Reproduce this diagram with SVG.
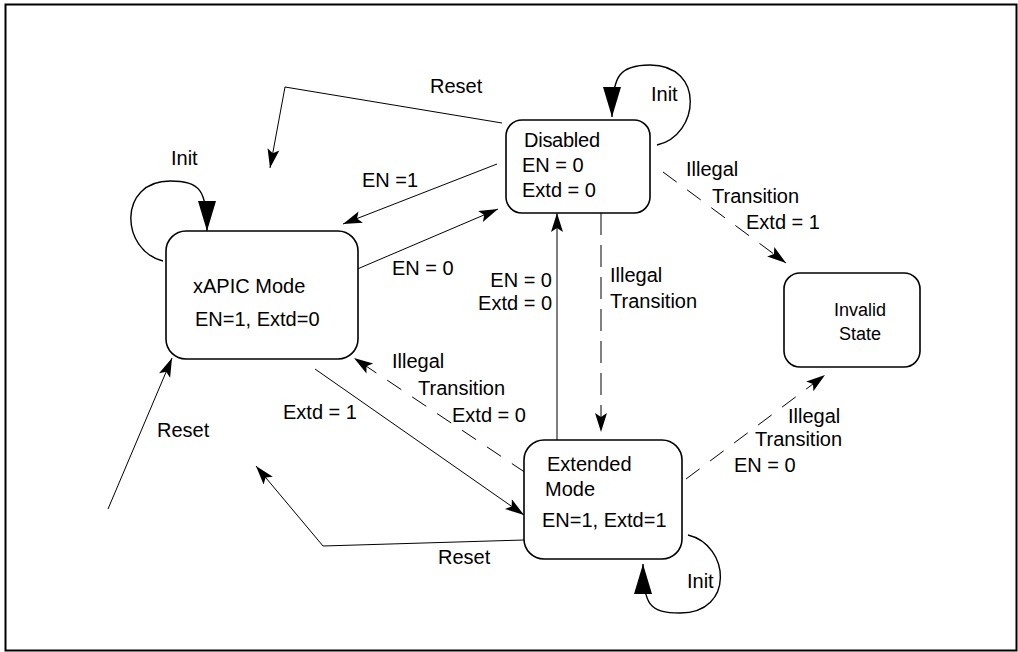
<svg xmlns="http://www.w3.org/2000/svg" width="1018" height="652" viewBox="0 0 1018 652">
<style>
text{font-family:"Liberation Sans",Arial,sans-serif;font-size:20px;fill:#000}
.sm{font-size:18px}
.box{fill:#fff;stroke:#000;stroke-width:1.6}
.ln{fill:none;stroke:#000;stroke-width:1}
.lp{fill:none;stroke:#000;stroke-width:1.4}
.dash{stroke-dasharray:17,13}
.vd{stroke-dasharray:22,10}
</style>
<defs>
<marker id="a" markerUnits="userSpaceOnUse" markerWidth="20" markerHeight="12" refX="19" refY="6" orient="auto" overflow="visible">
<path d="M0,0 L19,6 L0,12 L4,6 Z" fill="#000"/>
</marker>
<marker id="b" markerUnits="userSpaceOnUse" markerWidth="31" markerHeight="18" refX="30" refY="9" orient="auto" overflow="visible">
<path d="M0,0 L30,9 L0,18 Z" fill="#000"/>
</marker>
</defs>
<rect x="5.5" y="4.5" width="1011" height="646" fill="#fff" stroke="#000" stroke-width="2"/>
<g id="connectors">
<path class="lp" d="M657 145 C700 135,705 65,650 65 C620 65,612 75,612 117" marker-end="url(#b)"/>
<path class="lp" d="M163 261 C120 250,118 181,170 181 C200 181,207 190,207 231" marker-end="url(#b)"/>
<path class="lp" d="M688 535 C730 545,735 613,680 613 C650 613,643 605,643 564" marker-end="url(#b)"/>
<polyline class="ln" points="502,123 285,87 270,168" marker-end="url(#a)"/>
<line class="ln" x1="497" y1="164" x2="343" y2="224" marker-end="url(#a)"/>
<line class="ln" x1="355" y1="270" x2="498" y2="209" marker-end="url(#a)"/>
<line class="ln" x1="557" y1="440" x2="557" y2="213" marker-end="url(#a)"/>
<line class="ln vd" x1="601" y1="213" x2="601" y2="432" marker-end="url(#a)"/>
<line class="ln dash" x1="526" y1="473" x2="354" y2="358" marker-end="url(#a)"/>
<line class="ln" x1="315" y1="369" x2="524" y2="515" marker-end="url(#a)"/>
<polyline class="ln" points="524,540 323,546 256,466" marker-end="url(#a)"/>
<line class="ln" x1="108" y1="509" x2="172" y2="358" marker-end="url(#a)"/>
<line class="ln dash" x1="663" y1="172" x2="786" y2="263" marker-end="url(#a)"/>
<line class="ln dash" x1="686" y1="479" x2="825" y2="375" marker-end="url(#a)"/>
<text x="651" y="101">Init</text>
<text x="171" y="165">Init</text>
<text x="687" y="588">Init</text>
<text x="430" y="93">Reset</text>
<text x="362" y="187">EN =1</text>
<text x="392" y="275">EN = 0</text>
<text x="552" y="287" text-anchor="end">EN = 0</text>
<text x="552" y="310" text-anchor="end">Extd = 0</text>
<text x="610" y="282">Illegal</text>
<text x="610" y="308">Transition</text>
<text x="392" y="368">Illegal</text>
<text x="418" y="395">Transition</text>
<text x="452" y="422">Extd = 0</text>
<text x="283" y="419">Extd = 1</text>
<text x="157" y="437">Reset</text>
<text x="438" y="564">Reset</text>
<text x="686" y="176">Illegal</text>
<text x="712" y="203">Transition</text>
<text x="746" y="229">Extd = 1</text>
<text x="788" y="423">Illegal</text>
<text x="755" y="446">Transition</text>
<text x="734" y="472">EN = 0</text>
</g>
<g id="disabled">
<rect class="box" x="506" y="120" width="144" height="93" rx="16"/>
<text x="524" y="147" textLength="76">Disabled</text>
<text x="522" y="172">EN = 0</text>
<text x="522" y="197">Extd = 0</text>
</g>
<g id="xapic">
<rect class="box" x="166" y="231" width="192" height="128" rx="20"/>
<text x="193" y="293">xAPIC Mode</text>
<text x="195" y="326">EN=1, Extd=0</text>
</g>
<g id="extended">
<rect class="box" x="524" y="440" width="158" height="119" rx="20"/>
<text x="547" y="471">Extended</text>
<text x="545" y="496">Mode</text>
<text x="542" y="527">EN=1, Extd=1</text>
</g>
<g id="invalid">
<rect class="box" x="784" y="273" width="136" height="94" rx="16"/>
<text class="sm" x="860" y="316" text-anchor="middle">Invalid</text>
<text class="sm" x="860" y="340" text-anchor="middle">State</text>
</g>
</svg>
